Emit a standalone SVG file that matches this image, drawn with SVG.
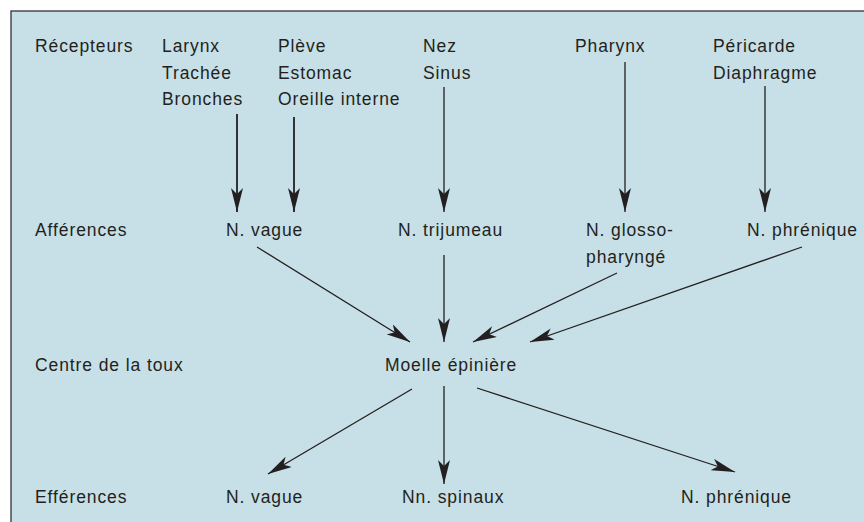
<svg xmlns="http://www.w3.org/2000/svg" width="864" height="522" viewBox="0 0 864 522">
<style>
text{font-family:"Liberation Sans",Arial,sans-serif;font-size:17.5px;fill:#231f20;letter-spacing:0.9px}
.c{stroke:#231f20;stroke-width:1.3;fill:none;marker-end:url(#ah)}
.t{stroke-width:1.8}
</style>
<defs>
<marker id="ah" markerUnits="userSpaceOnUse" viewBox="0 0 24 12" refX="24" refY="6" markerWidth="24" markerHeight="12" orient="auto">
<path d="M0,0 L24,6 L0,12 L6,6 z" fill="#231f20"/>
</marker>
</defs>
<rect x="11" y="11" width="870" height="530" fill="#c7dfe6" stroke="#333" stroke-width="1.3"/>
<g id="labels">
<text x="35" y="52">Récepteurs</text>
<text x="35" y="236">Afférences</text>
<text x="35" y="371">Centre de la toux</text>
<text x="35" y="503">Efférences</text>
</g>
<g id="r-larynx"><text x="162" y="52">Larynx</text><text x="162" y="78.5">Trachée</text><text x="162" y="105">Bronches</text></g>
<g id="r-pleve"><text x="278" y="52">Plève</text><text x="278" y="78.5">Estomac</text><text x="278" y="105">Oreille interne</text></g>
<g id="r-nez"><text x="423" y="52">Nez</text><text x="423" y="78.5">Sinus</text></g>
<g id="r-pharynx"><text x="575" y="52">Pharynx</text></g>
<g id="r-pericarde"><text x="713" y="52">Péricarde</text><text x="713" y="78.5">Diaphragme</text></g>
<g id="a-vague"><text x="226" y="236">N. vague</text></g>
<g id="a-trijumeau"><text x="398" y="236">N. trijumeau</text></g>
<g id="a-glosso"><text x="586" y="236">N. glosso-</text><text x="586" y="263">pharyngé</text></g>
<g id="a-phrenique"><text x="747" y="236">N. phrénique</text></g>
<g id="moelle"><text x="385" y="371">Moelle épinière</text></g>
<g id="e-vague"><text x="226" y="503">N. vague</text></g>
<g id="e-spinaux"><text x="402" y="503">Nn. spinaux</text></g>
<g id="e-phrenique"><text x="681" y="503">N. phrénique</text></g>
<g id="connectors">
<line class="c t" x1="237" y1="114" x2="237" y2="212"/>
<line class="c t" x1="294" y1="117" x2="294" y2="212"/>
<line class="c" x1="444" y1="87" x2="444" y2="212"/>
<line class="c" x1="625" y1="62" x2="625" y2="212"/>
<line class="c" x1="765" y1="86" x2="765" y2="212"/>
<line class="c" x1="257" y1="247" x2="410" y2="342"/>
<line class="c" x1="444" y1="255" x2="444" y2="342"/>
<line class="c" x1="617" y1="273" x2="473" y2="342"/>
<line class="c" x1="802" y1="247" x2="530" y2="342"/>
<line class="c" x1="412" y1="389" x2="268" y2="474"/>
<line class="c" x1="444" y1="386" x2="444" y2="484"/>
<line class="c" x1="477" y1="388" x2="735" y2="472"/>
</g>
</svg>
